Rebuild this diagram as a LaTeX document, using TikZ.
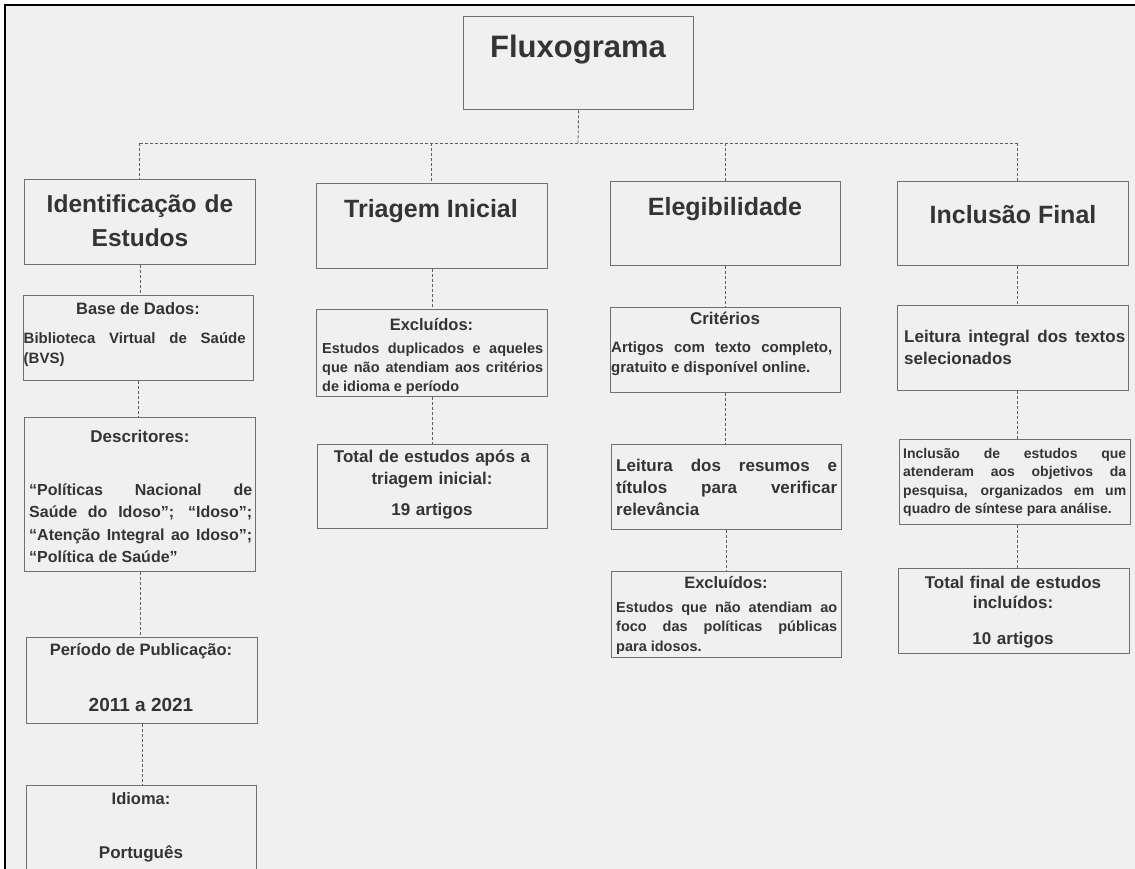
\documentclass[tikz,border=0pt]{standalone}
\usepackage{fontspec}
\setmainfont{Liberation Sans}
\usetikzlibrary{calc}
\hyphenpenalty=10000
\exhyphenpenalty=10000
\tolerance=9999
\definecolor{paper}{RGB}{240,240,240}
\definecolor{ink}{RGB}{52,52,52}
\definecolor{edge}{RGB}{112,112,112}
\definecolor{link}{RGB}{95,95,95}
\tikzset{
  stepBox/.style={draw=edge, line width=1.3pt, fill=paper, inner sep=0pt, anchor=north west},
  headText/.style={text=ink, font=\fontsize{25}{34}\selectfont\bfseries, align=center, inner sep=0pt, anchor=base},
  labelText/.style={text=ink, font=\fontsize{16.5}{22}\selectfont\bfseries, align=center, inner sep=0pt, anchor=base},
  bodyText/.style={text=ink, font=\fontsize{14.5}{19}\selectfont\bfseries, text width=221pt, align=justify, inner sep=0pt, anchor=base west},
  link/.style={draw=link, line width=0.9pt, dash pattern=on 3pt off 2pt}
}

\begin{document}
\begin{tikzpicture}[x=1pt,y=-1pt]

% Background and frame
\useasboundingbox (0,0) rectangle (1135,869);
\clip (0,0) rectangle (1135,869);
\fill[white] (0,0) rectangle (1135,869);
\fill[paper] (5,5) rectangle (1135,869);
\draw[black, line width=2.5pt] (5,869) -- (5,5) -- (1135,5);

% Title
\node[stepBox, minimum width=230pt, minimum height=93pt] (title) at (463,16) {};
\node[text=ink, font=\fontsize{31}{36}\selectfont\bfseries, inner sep=0pt, anchor=base] (titleTxt) at (578,58) {Fluxograma};

% Stage headers
\node[stepBox, minimum width=231pt, minimum height=85pt] (hdrA) at (24,179) {};
\node[stepBox, minimum width=231pt, minimum height=85pt] (hdrB) at (316,183) {};
\node[stepBox, minimum width=230pt, minimum height=84pt] (hdrC) at (610,181) {};
\node[stepBox, minimum width=231pt, minimum height=84pt] (hdrD) at (897,181) {};
\node[headText, font=\fontsize{24.5}{34}\selectfont\bfseries, text width=231pt] (hdrAtxt) at (140,213) {Identificação de\\Estudos};
\node[headText] (hdrBtxt) at (431,218) {Triagem Inicial};
\node[headText] (hdrCtxt) at (725,216) {Elegibilidade};
\node[headText] (hdrDtxt) at (1013,223) {Inclusão Final};

\coordinate (busTop) at (578,143);
\coordinate (busA) at (139.5,143);
\coordinate (busB) at (431.5,143);
\coordinate (busC) at (725,143);
\coordinate (busD) at (1017,143);
\draw[link] (title.south) -- (busTop);
\draw[link] (busA) -- (busD);
\draw[link] (busA) -- (busA |- hdrA.north);
\draw[link] (busB) -- (busB |- hdrB.north);
\draw[link] (busC) -- (busC |- hdrC.north);
\draw[link] (busD) -- (busD |- hdrD.north);

% Identificacao
\node[stepBox, minimum width=230pt, minimum height=85pt] (baseA) at (23,295) {};
\node[stepBox, minimum width=231pt, minimum height=154pt] (descA) at (24,417) {};
\node[stepBox, minimum width=231pt, minimum height=86pt] (perA) at (26,637) {};
\node[stepBox, minimum width=230pt, minimum height=110pt] (idiA) at (26,785) {};

\node[labelText] (baseAttl) at (138,314) {Base de Dados:};
\node[bodyText, font=\fontsize{15}{20}\selectfont\bfseries, text width=222pt] (baseAtxt) at (23.5,343.5)
  {Biblioteca Virtual de Saúde\linebreak (BVS)};
\node[labelText, font=\fontsize{17}{22}\selectfont\bfseries] (descAttl) at (140,442) {Descritores:};
\node[bodyText, font=\fontsize{16}{22.5}\selectfont\bfseries, text width=223pt] (descAtxt) at (29,495)
  {“Políticas Nacional de\linebreak Saúde do Idoso”; “Idoso”;\linebreak “Atenção Integral ao Idoso”;\linebreak “Política de Saúde”};
\node[labelText] (perAttl) at (141,655) {Período de Publicação:};
\node[labelText, font=\fontsize{19}{22}\selectfont\bfseries] (perAval) at (141,711) {2011 a 2021};
\node[labelText] (idiAttl) at (141,804) {Idioma:};
\node[labelText, font=\fontsize{17}{22}\selectfont\bfseries] (idiAval) at (141,858) {Português};

\draw[link] (hdrA.south) -- (hdrA.south |- baseA.north);
\draw[link] (baseA.south) -- (baseA.south |- descA.north);
\draw[link] (descA.south) -- (descA.south |- perA.north);
\draw[link] (perA.south) -- (perA.south |- idiA.north);

% Triagem
\node[stepBox, minimum width=231pt, minimum height=87pt] (exclB) at (316,309) {};
\node[stepBox, minimum width=230pt, minimum height=84pt] (totB) at (317,444) {};

\node[labelText] (exclBttl) at (431.5,330) {Excluídos:};
\node[bodyText] (exclBtxt) at (322,353)
  {Estudos duplicados e aqueles\linebreak que não atendiam aos critérios\linebreak de idioma e período};
\node[labelText, font=\fontsize{17}{22}\selectfont\bfseries, text width=230pt] (totBtxt) at (432,462)
  {Total de estudos após a\\triagem inicial:\\[9pt]19 artigos};

\draw[link] (hdrB.south) -- (hdrB.south |- exclB.north);
\draw[link] (exclB.south) -- (exclB.south |- totB.north);

% Elegibilidade
\node[stepBox, minimum width=230pt, minimum height=85pt] (critC) at (610,307) {};
\node[stepBox, minimum width=230pt, minimum height=85pt] (leitC) at (611,444) {};
\node[stepBox, minimum width=230pt, minimum height=86pt] (exclC) at (611,571) {};

\node[labelText, font=\fontsize{17}{22}\selectfont\bfseries] (critCttl) at (725,324) {Critérios};
\node[bodyText, font=\fontsize{15}{20}\selectfont\bfseries] (critCtxt) at (611,352)
  {Artigos com texto completo,\linebreak gratuito e disponível online.};
\node[bodyText, font=\fontsize{17}{22}\selectfont\bfseries] (leitCtxt) at (616,471)
  {Leitura dos resumos e\linebreak títulos para verificar\linebreak relevância};
\node[labelText] (exclCttl) at (726,588) {Excluídos:};
\node[bodyText, font=\fontsize{14.5}{19.5}\selectfont\bfseries] (exclCtxt) at (616,612)
  {Estudos que não atendiam ao\linebreak foco das políticas públicas\linebreak para idosos.};

\draw[link] (hdrC.south) -- (hdrC.south |- critC.north);
\draw[link] (critC.south) -- (critC.south |- leitC.north);
\draw[link] (leitC.south) -- (leitC.south |- exclC.north);

% Inclusao final
\node[stepBox, minimum width=231pt, minimum height=85pt] (leitD) at (897,305) {};
\node[stepBox, minimum width=231pt, minimum height=85pt] (inclD) at (899,439) {};
\node[stepBox, minimum width=231pt, minimum height=85pt] (totD) at (898,568) {};

\node[bodyText, font=\fontsize{17}{22}\selectfont\bfseries] (leitDtxt) at (904,342)
  {Leitura integral dos textos\linebreak selecionados};
\node[bodyText, font=\fontsize{14}{18.5}\selectfont\bfseries, text width=223pt] (inclDtxt) at (903,458)
  {Inclusão de estudos que\linebreak atenderam aos objetivos da\linebreak pesquisa, organizados em um\linebreak quadro de síntese para análise.};
\node[labelText, font=\fontsize{17}{20}\selectfont\bfseries, text width=231pt] (totDtxt) at (1013,588)
  {Total final de estudos\\incluídos:\\[16pt]10 artigos};

\draw[link] (busD |- hdrD.south) -- (busD |- leitD.north);
\draw[link] (busD |- leitD.south) -- (busD |- inclD.north);
\draw[link] (busD |- inclD.south) -- (busD |- totD.north);

\end{tikzpicture}
\end{document}
